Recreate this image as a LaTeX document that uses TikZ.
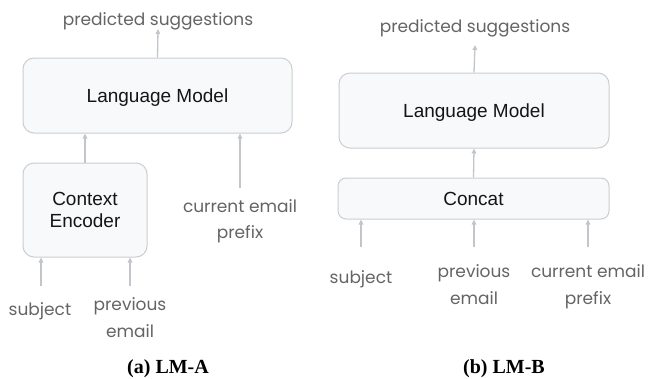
\documentclass[tikz,border=0pt]{standalone}
\usepackage{fontspec}
\setmainfont{Liberation Serif}
\newfontfamily\boxfont{Liberation Sans}
\newfontfamily\labfont{Poppins}
\usetikzlibrary{arrows.meta}
\definecolor{labgray}{HTML}{646464}
\definecolor{arrgray}{HTML}{C2C5CA}
\definecolor{boxline}{HTML}{CACDD1}
\definecolor{boxfill}{HTML}{F8F9FA}
\definecolor{boxtext}{HTML}{151515}
\tikzset{
  mbox/.style={draw=boxline, fill=boxfill, line width=1pt, rounded corners=11pt,
    inner sep=0pt, text=boxtext, font=\boxfont\fontsize{19}{22.6}\selectfont,
    text depth=0pt, align=center},
  lab/.style={text=labgray, font=\labfont\fontsize{17}{26.5}\selectfont, anchor=base, inner sep=0pt, align=center},
  captxt/.style={font=\bfseries\fontsize{20}{24}\selectfont, anchor=base, inner sep=0pt},
  arr/.style={draw=arrgray, line width=1.3pt, -{Triangle[length=5pt,width=4.5pt]}}
}
\begin{document}
\begin{tikzpicture}[x=1pt,y=-1pt]
\useasboundingbox (0,0) rectangle (651,378);
% ---------- panel (a)
\node[mbox, minimum width=269pt, minimum height=75pt] (lmA) at (157.5,95.5) {Language Model};
\node[mbox, minimum width=124pt, minimum height=94pt] (ceA) at (85,210) {Context\\Encoder};
\node[lab] (predA) at (158,25) {predicted suggestions};
\node[lab] (curA) at (240,238.5) {current email\\prefix};
\node[lab] (subjA) at (40,315) {subject};
\node[lab] (prevA) at (130,337) {previous\\email};
\node[captxt] (capA) at (168,373) {(a) LM-A};
\coordinate (predAin) at (158,29);
\coordinate (curAout) at (240,188);
\coordinate (subjAout) at (41,286);
\coordinate (prevAout) at (130,286);
\draw[arr] (lmA.north) -- (predAin);
\draw[arr] (ceA.north) -- (ceA.north |- lmA.south);
\draw[arr] (curAout) -- (curAout |- lmA.south);
\draw[arr] (subjAout) -- (subjAout |- ceA.south);
\draw[arr] (prevAout) -- (prevAout |- ceA.south);
% ---------- panel (b)
\node[mbox, minimum width=270pt, minimum height=75pt] (lmB) at (474,110.5) {Language Model};
\node[mbox, minimum width=271pt, minimum height=41pt, rounded corners=8pt] (conB) at (473.5,198.5) {Concat};
\node[lab] (predB) at (475,32) {predicted suggestions};
\node[lab] (subjB) at (361,283) {subject};
\node[lab] (prevB) at (474,304) {previous\\email};
\node[lab] (curB) at (588,304) {current email\\prefix};
\node[captxt] (capB) at (504,373) {(b) LM-B};
\coordinate (predBin) at (475,45);
\coordinate (subjBout) at (361,247);
\coordinate (prevBout) at (474,247);
\coordinate (curBout) at (588,247);
\draw[arr] (lmB.north) -- (predBin);
\draw[arr] (conB.north) -- (lmB.south);
\draw[arr] (subjBout) -- (subjBout |- conB.south);
\draw[arr] (prevBout) -- (prevBout |- conB.south);
\draw[arr] (curBout) -- (curBout |- conB.south);
\end{tikzpicture}
\end{document}
